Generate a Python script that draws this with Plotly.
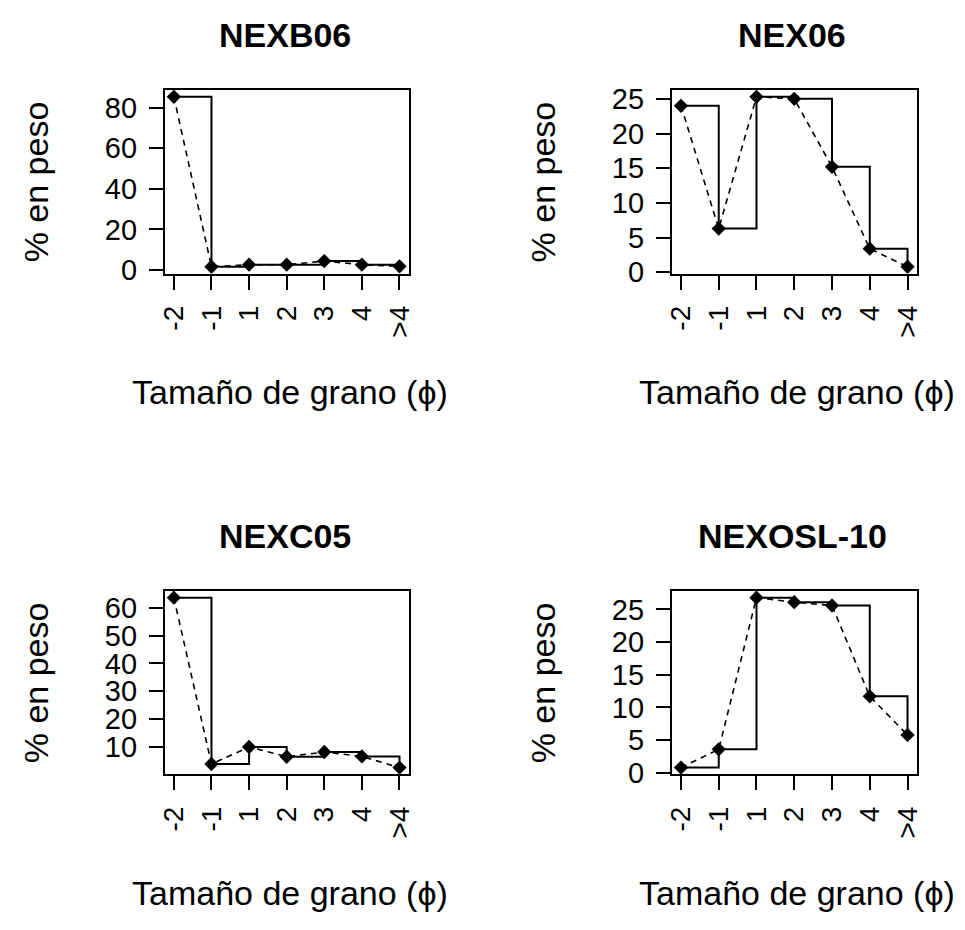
import plotly.graph_objects as go

# Grain-size classes (phi) and weight percentages per sample
clases = ["-2", "-1", "1", "2", "3", "4", ">4"]
muestras = ["NEXB06", "NEX06", "NEXC05", "NEXOSL-10"]
nexb06 = [85.3, 1.6, 2.6, 2.6, 4.4, 2.6, 1.8]
nex06 = [24.0, 6.3, 25.3, 25.0, 15.2, 3.4, 0.8]
nexc05 = [63.6, 3.9, 10.0, 6.5, 8.2, 6.6, 2.6]
nexosl10 = [0.8, 3.6, 26.8, 26.1, 25.6, 11.7, 5.8]
series = [nexb06, nex06, nexc05, nexosl10]

# y tick sets for each panel
yticks = [
    [0, 20, 40, 60, 80],
    [0, 5, 10, 15, 20, 25],
    [10, 20, 30, 40, 50, 60],
    [0, 5, 10, 15, 20, 25],
]

W, H = 965, 930
# panel boxes in pixels: (left, right, top, bottom)
boxes = [
    (160, 407, 85, 273),
    (674, 922, 85, 273),
    (160, 407, 598, 786),
    (674, 922, 598, 786),
]


def px(x):
    return x / W


def py(y):
    return 1 - y / H


FONT = "Liberation Sans, Arial, sans-serif"
fig = go.Figure()
xpos = list(range(1, len(clases) + 1))

for i, (vals, name) in enumerate(zip(series, muestras)):
    ax = "" if i == 0 else str(i + 1)
    xa, ya = "x" + ax, "y" + ax
    # step outline (histogram-like)
    fig.add_trace(go.Scatter(x=xpos, y=vals, mode="lines", line_shape="hv",
                             line=dict(color="black", width=2),
                             xaxis=xa, yaxis=ya, showlegend=False))
    # dashed polygon through the class values
    fig.add_trace(go.Scatter(x=xpos, y=vals, mode="lines+markers",
                             line=dict(color="black", width=1.6, dash="6px,5px"),
                             marker=dict(symbol="diamond", size=11, color="black"),
                             xaxis=xa, yaxis=ya, showlegend=False))
    l, r, t, b = boxes[i]
    lo, hi = min(vals), max(vals)
    pad = 0.04 * (hi - lo)
    fig.layout["xaxis" + ax] = dict(
        domain=[px(l), px(r)], anchor=ya, range=[1 - 0.24, len(clases) + 0.24],
        tickvals=xpos, ticktext=clases, tickangle=-90,
        ticks="outside", ticklen=14, tickwidth=2, tickcolor="black",
        ticklabelstandoff=5,
        showline=True, mirror=True, linecolor="black", linewidth=2,
        showgrid=False, zeroline=False,
        tickfont=dict(family=FONT, size=28, color="black"),
    )
    fig.layout["yaxis" + ax] = dict(
        domain=[py(b), py(t)], anchor=xa, range=[lo - pad, hi + pad],
        tickvals=yticks[i], ticks="outside", ticklen=14, tickwidth=2,
        tickcolor="black", ticklabelstandoff=6,
        showline=True, mirror=True, linecolor="black", linewidth=2,
        showgrid=False, zeroline=False,
        tickfont=dict(family=FONT, size=29, color="black"),
    )
    cx = (l + r) / 2
    cy = (t + b) / 2
    fig.add_annotation(text="<b>" + name + "</b>", x=px(cx - 2), y=py(t - 56),
                       xref="paper", yref="paper", showarrow=False,
                       xanchor="center", yanchor="middle",
                       font=dict(family=FONT, size=34, color="black"))
    fig.add_annotation(text="Tamaño de grano (ϕ)", x=px(cx + 3), y=py(b + 121),
                       xref="paper", yref="paper", showarrow=False,
                       xanchor="center", yanchor="middle",
                       font=dict(family=FONT, size=34, color="black"))
    fig.add_annotation(text="% en peso", x=px(l - 131), y=py(cy),
                       xref="paper", yref="paper", showarrow=False, textangle=-90,
                       xanchor="center", yanchor="middle",
                       font=dict(family=FONT, size=34, color="black"))

fig.update_layout(width=W, height=H, margin=dict(l=0, r=0, t=0, b=0),
                  plot_bgcolor="white", paper_bgcolor="white")
fig.write_html("out.html")
